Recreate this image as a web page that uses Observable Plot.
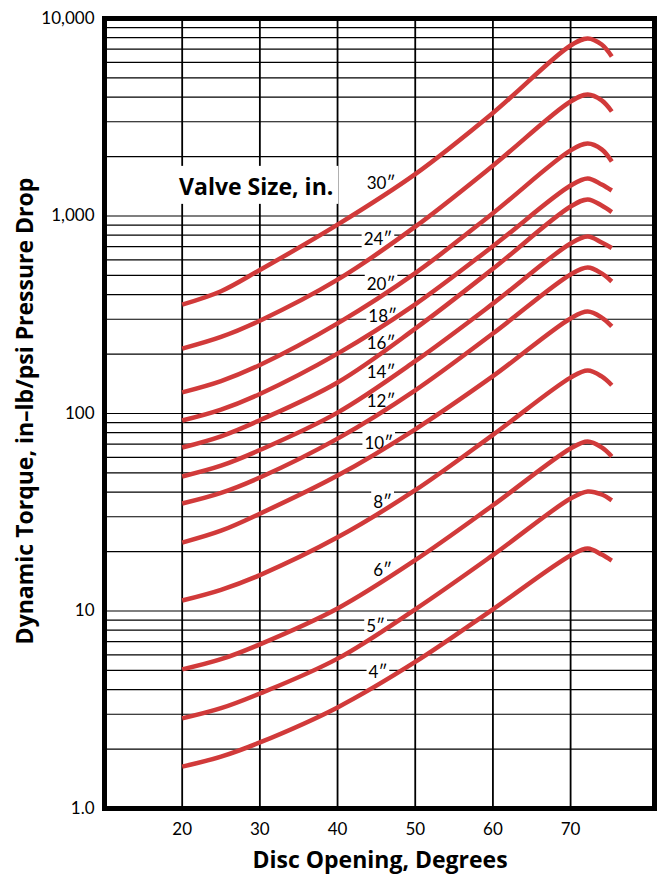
<!DOCTYPE html>
<html>
<head>
<meta charset="utf-8">
<script src="https://cdn.jsdelivr.net/npm/d3@7"></script>
<script src="https://cdn.jsdelivr.net/npm/@observablehq/plot@0.6"></script>
<style>
  html, body { margin: 0; padding: 0; background: #fff; }
  #chart svg { display: block; }
</style>
</head>
<body>
<div id="chart"></div>
<script>
// ---- data ----
const angles = [20, 25, 30, 40, 50, 60, 70, 72.2, 74, 75.3];
const t30 = [356, 416, 533, 904, 1629, 3324, 7300, 7925, 7385, 6425];
const t24 = [213, 244, 295, 476, 883, 1799, 3802, 4121, 3846, 3381];
const t20 = [128, 146, 176, 286, 514, 1033, 2148, 2328, 2173, 1888];
const t18 = [92.2, 104.7, 125.6, 201, 357, 703, 1426, 1549, 1443, 1346];
const t16 = [67.3, 76.7, 92.5, 143.6, 269, 540, 1117, 1213, 1130, 1047];
const t14 = [48.0, 54.4, 65.3, 101, 184, 360, 726, 787, 734, 689];
const t12 = [35.0, 39.6, 47.4, 74.6, 131, 254, 506, 548, 512, 466];
const t10 = [22.2, 25.5, 31.1, 48.5, 83.2, 154.5, 303, 328, 306, 276];
const t8  = [11.3, 12.8, 15.2, 23.6, 40.9, 78.0, 152, 165, 154, 139];
const t6  = [5.06, 5.70, 6.78, 10.3, 18.1, 34.3, 66.5, 72.1, 67.3, 60.6];
const t5  = [2.86, 3.22, 3.82, 5.74, 10.2, 19.2, 37.1, 40.3, 38.9, 36.3];
const t4  = [1.63, 1.83, 2.16, 3.25, 5.52, 10.2, 19.1, 20.7, 19.3, 18.0];

const sizes = ["30″", "24″", "20″", "18″", "16″", "14″", "12″", "10″", "8″", "6″", "5″", "4″"];
const labelAngle  = [45.6, 45.2, 45.6, 45.8, 45.6, 45.6, 45.6, 45.3, 45.8, 45.8, 44.9, 45.2];
const labelTorque = [1462, 760, 450, 310, 226, 161, 115, 70.5, 35.4, 16.0, 8.35, 4.88];

const xTicks = [20, 30, 40, 50, 60, 70];
const yTicks = [1, 10, 100, 1000, 10000];
const yTickLabels = ["1.0", "10", "100", "1,000", "10,000"];
const yGrid = [2, 3, 4, 5, 6, 7, 8, 9, 10, 20, 30, 40, 50, 60, 70, 80, 90, 100,
  200, 300, 400, 500, 600, 700, 800, 900, 1000, 2000, 3000, 4000, 5000, 6000, 7000, 8000, 9000];

const legendTitle = "Valve Size, in.";
const xTitle = "Disc Opening, Degrees";
const yTitle = "Dynamic Torque, in–lb/psi Pressure Drop";

// ---- build table ----
const series = [t30, t24, t20, t18, t16, t14, t12, t10, t8, t6, t5, t4];
const rows = sizes.flatMap((s, i) => angles.map((a, j) => ({size: s, angle: a, torque: series[i][j]})));
const labels = sizes.map((s, i) => ({size: s, angle: labelAngle[i], torque: labelTorque[i]}));

const RED = "#d13a3a";
const FONT = "Lato, 'Open Sans', sans-serif";
const TITLE_FONT = "'Open Sans', Lato, sans-serif";

const plot = Plot.plot({
  width: 661,
  height: 880,
  marginLeft: 104,
  marginRight: 7,
  marginTop: 18,
  marginBottom: 72,
  style: {fontFamily: FONT, fontSize: "17px", color: "black", background: "white"},
  x: {domain: [10, 80.8], ticks: xTicks, tickSize: 0, tickPadding: 14, label: null},
  y: {type: "log", domain: [1, 10000], ticks: yTicks, tickSize: 0, tickPadding: 10,
      tickFormat: d => yTickLabels[yTicks.indexOf(d)], label: null},
  marks: [
    Plot.ruleY(yGrid, {stroke: "black", strokeWidth: 1.2}),
    Plot.ruleX(xTicks, {stroke: "black", strokeWidth: 1.8}),
    Plot.text([legendTitle], {x: 19.6, y: 1394, text: d => d, textAnchor: "start",
      fontSize: 23, fontWeight: "bold", fontFamily: TITLE_FONT, fill: "black"}),
    Plot.text(labels, {x: "angle", y: "torque", text: "size", fontSize: 17, fill: "black"}),
    Plot.frame({stroke: "black", strokeWidth: 5}),
    Plot.line(rows, {x: "angle", y: "torque", z: "size", stroke: RED, strokeWidth: 4.5,
      curve: "catmull-rom", strokeLinecap: "butt"})
  ]
});

document.getElementById("chart").appendChild(plot);

// white boxes behind the in-chart labels (they cut the grid lines)
const svg = d3.select(plot);
const boxed = new Set([legendTitle, ...sizes]);
svg.selectAll("text").each(function() {
  const t = this.textContent;
  if (!boxed.has(t)) return;
  const big = t === legendTitle;
  const bb = this.getBBox();
  const px = big ? 5 : 2, pyT = big ? 4 : 0, pyB = big ? 2 : 0;
  const r = document.createElementNS("http://www.w3.org/2000/svg", "rect");
  r.setAttribute("x", bb.x - px);
  r.setAttribute("y", bb.y - pyT);
  r.setAttribute("width", bb.width + 2 * px);
  r.setAttribute("height", bb.height + pyT + pyB);
  r.setAttribute("fill", "white");
  const tr = this.getAttribute("transform");
  if (tr) r.setAttribute("transform", tr);
  this.parentNode.insertBefore(r, this);
});

// axis titles
svg.append("text")
  .attr("transform", "translate(27,411) rotate(-90)")
  .attr("text-anchor", "middle")
  .attr("dominant-baseline", "middle")
  .attr("font-family", TITLE_FONT)
  .attr("font-weight", "bold")
  .attr("font-size", 23)
  .attr("fill", "black")
  .text(yTitle);
svg.append("text")
  .attr("x", 380)
  .attr("y", 862)
  .attr("text-anchor", "middle")
  .attr("dominant-baseline", "middle")
  .attr("font-family", TITLE_FONT)
  .attr("font-weight", "bold")
  .attr("font-size", 23)
  .attr("fill", "black")
  .text(xTitle);
</script>
</body>
</html>
